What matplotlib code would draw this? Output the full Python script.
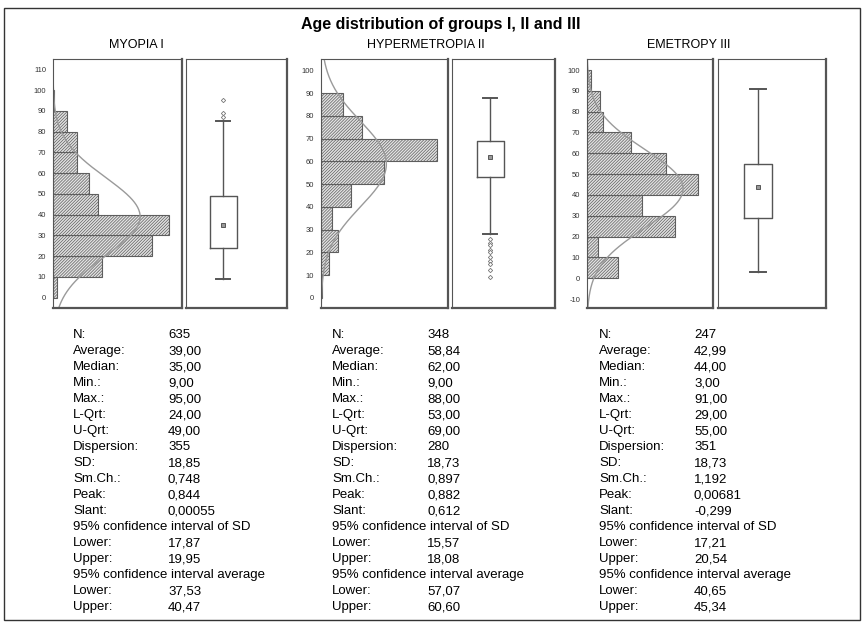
import numpy as np
import matplotlib
matplotlib.use("Agg")
import matplotlib.pyplot as plt
import matplotlib.patches as mpatches

plt.rcParams["font.family"] = ["Liberation Sans", "DejaVu Sans"]
plt.rcParams["hatch.linewidth"] = 0.5
plt.rcParams["axes.unicode_minus"] = False

# ---- data -------------------------------------------------------------
groups = ["MYOPIA I", "HYPERMETROPIA II", "EMETROPY III"]
bin_width = 10

myopia_bins = [0, 10, 20, 30, 40, 50, 60, 70, 80, 90]
myopia_counts = [6, 75, 153, 179, 69, 55, 37, 37, 22, 2]
hyper_bins = [0, 10, 20, 30, 40, 50, 60, 70, 80]
hyper_counts = [1, 9, 19, 12, 34, 71, 131, 46, 25]
emet_bins = [0, 10, 20, 30, 40, 50, 60, 70, 80, 90]
emet_counts = [17, 6, 48, 30, 61, 43, 24, 9, 7, 2]

n_values = [635, 348, 247]
mean_values = [39.00, 58.84, 42.99]
sd_values = [18.85, 18.73, 18.73]
median_values = [35, 62, 44]
q1_values = [24, 53, 29]
q3_values = [49, 69, 55]
whisker_low = [9, 28, 3]
whisker_high = [85, 88, 91]
outliers = [
    [87, 89, 95],
    [26, 24, 23, 21, 20, 18, 16, 15, 12, 9],
    [],
]

y_ticks = [
    list(range(0, 111, 10)),
    list(range(0, 101, 10)),
    list(range(-10, 101, 10)),
]

stat_labels = ["N:", "Average:", "Median:", "Min.:", "Max.:", "L-Qrt:", "U-Qrt:",
               "Dispersion:", "SD:", "Sm.Ch.:", "Peak:", "Slant:",
               "95% confidence interval of SD", "Lower:", "Upper:",
               "95% confidence interval average", "Lower:", "Upper:"]
myopia_stats = ["635", "39,00", "35,00", "9,00", "95,00", "24,00", "49,00", "355",
                "18,85", "0,748", "0,844", "0,00055", "", "17,87", "19,95", "", "37,53", "40,47"]
hyper_stats = ["348", "58,84", "62,00", "9,00", "88,00", "53,00", "69,00", "280",
               "18,73", "0,897", "0,882", "0,612", "", "15,57", "18,08", "", "57,07", "60,60"]
emet_stats = ["247", "42,99", "44,00", "3,00", "91,00", "29,00", "55,00", "351",
              "18,73", "1,192", "0,00681", "-0,299", "", "17,21", "20,54", "", "40,65", "45,34"]

# ---- layout (pixels) --------------------------------------------------
W, H = 864, 624
hist_boxes = [(53, 182), (321, 448), (587, 713)]
bxp_boxes = [(186, 287), (452, 555), (718, 826)]
ax_top, ax_bottom = 59, 308
y_limits = [(-5, 115), (-4.5, 105), (-14.3, 105.3)]
x_limits = [199, 144, 69]
subtitle_x = [136, 426, 689]
label_x = [73, 332, 599]
value_x = [168, 427, 694]

EDGE = "#555555"


def px_axes(fig, left, right):
    return fig.add_axes([left / W, 1 - ax_bottom / H,
                         (right - left) / W, (ax_bottom - ax_top) / H])


def frame(ax):
    for side, sp in ax.spines.items():
        sp.set_color(EDGE)
        sp.set_linewidth(1.6 if side in ("bottom", "right") else 0.8)


def draw_hist(ax, bins, counts, i):
    ax.barh(bins, counts, height=bin_width, align="edge", color="#e2e2e2",
            edgecolor="#5e5e5e", hatch="///////////", linewidth=0.8)
    ylo, yhi = y_limits[i]
    y = np.linspace(ylo, yhi, 300)
    mu, sd = mean_values[i], sd_values[i]
    fit = n_values[i] * bin_width * np.exp(-0.5 * ((y - mu) / sd) ** 2) / (sd * np.sqrt(2 * np.pi))
    ax.plot(fit, y, color="#9a9a9a", linewidth=1.0)
    ax.set_ylim(ylo, yhi)
    ax.set_xlim(0, x_limits[i])
    ax.set_xticks([])
    ax.set_yticks(y_ticks[i])
    ax.tick_params(axis="y", length=0, pad=5, labelsize=5.5, labelcolor="#333333")
    frame(ax)


def draw_box(ax, i):
    stats = [dict(med=median_values[i], q1=q1_values[i], q3=q3_values[i],
                  whislo=whisker_low[i], whishi=whisker_high[i], fliers=outliers[i])]
    line = dict(color=EDGE, linewidth=1.0)
    ax.bxp(stats, positions=[1], widths=0.26, capwidths=0.14,
           boxprops=line, whiskerprops=line,
           capprops=dict(color=EDGE, linewidth=1.4),
           medianprops=dict(linewidth=0),
           flierprops=dict(marker="D", markersize=2.2, markerfacecolor="white",
                           markeredgecolor="#777777", markeredgewidth=0.6))
    ax.plot([1], [median_values[i]], "s", markersize=2.6,
            markerfacecolor="#999999", markeredgecolor="#444444", markeredgewidth=0.6)
    ax.set_xlim(1 - 0.37, 1 + 0.63)
    ax.set_ylim(*y_limits[i])
    ax.set_xticks([])
    ax.set_yticks([])
    frame(ax)


fig = plt.figure(figsize=(W / 100, H / 100), dpi=100)

all_bins = [myopia_bins, hyper_bins, emet_bins]
all_counts = [myopia_counts, hyper_counts, emet_counts]
all_stats = [myopia_stats, hyper_stats, emet_stats]

for i in range(3):
    draw_hist(px_axes(fig, *hist_boxes[i]), all_bins[i], all_counts[i], i)
    draw_box(px_axes(fig, *bxp_boxes[i]), i)
    fig.text(subtitle_x[i] / W, 1 - 48 / H, groups[i], ha="center", va="baseline", fontsize=9)
    for r, (lab, val) in enumerate(zip(stat_labels, all_stats[i])):
        y = 1 - (338 + r * 16) / H
        fig.text(label_x[i] / W, y, lab, ha="left", va="baseline", fontsize=9.5)
        if val:
            fig.text(value_x[i] / W, y, val, ha="left", va="baseline", fontsize=9.5)

fig.text(441 / W, 1 - 29 / H, "Age distribution of groups I, II and III",
         ha="center", va="baseline", fontsize=11.5, fontweight="bold")

fig.patches.append(mpatches.Rectangle((4 / W, 1 - 620 / H), 856 / W, 612 / H,
                                      transform=fig.transFigure, fill=False,
                                      edgecolor="#333333", linewidth=1.0))

fig.savefig("out.png", dpi=100)
